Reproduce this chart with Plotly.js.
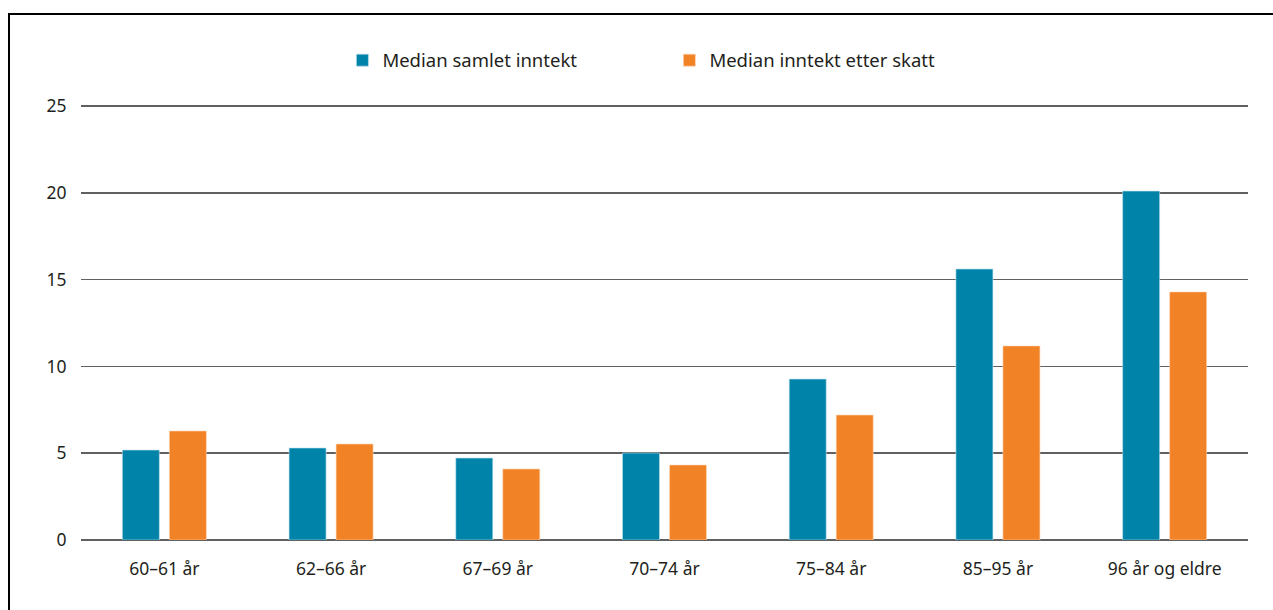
<!DOCTYPE html>
<html>
<head>
<meta charset="utf-8">
<script src="https://cdn.plot.ly/plotly-3.0.1.min.js"></script>
<style>
  html, body { margin: 0; padding: 0; background: #fff; }
  #chart { width: 1273px; height: 610px; }
  #frame { position: absolute; left: 8px; top: 13px; width: 1280px; height: 620px;
           border-top: 2px solid #000; border-left: 2px solid #000; pointer-events: none; }
</style>
</head>
<body>
<div id="chart"></div>
<div id="frame"></div>
<script>
const categories = ["60–61 år", "62–66 år", "67–69 år", "70–74 år", "75–84 år", "85–95 år", "96 år og eldre"];
const seriesNames = ["Median samlet inntekt", "Median inntekt etter skatt"];
const samletInntekt = [5.18, 5.3, 4.72, 5.01, 9.27, 15.61, 20.1];
const etterSkatt = [6.28, 5.53, 4.09, 4.32, 7.2, 11.18, 14.29];
const yTicks = [0, 5, 10, 15, 20, 25];

const font = "Noto Sans, sans-serif";
const textColor = "#231f20";
const traces = [
  { type: "bar", name: seriesNames[0], x: categories, y: samletInntekt,
    marker: { color: "#0083a9", line: { color: "#bfe3ee", width: 0.6 } }, hoverinfo: "x+y" },
  { type: "bar", name: seriesNames[1], x: categories, y: etterSkatt,
    marker: { color: "#f28226", line: { color: "#fbd9bd", width: 0.6 } }, hoverinfo: "x+y" }
];

const layout = {
  width: 1273, height: 610,
  margin: { l: 81, r: 25, t: 101, b: 70 },
  paper_bgcolor: "#fff", plot_bgcolor: "#fff",
  font: { family: font, size: 17, color: textColor },
  barmode: "group", bargap: 0.436, bargroupgap: 0.213,
  showlegend: true,
  legend: { orientation: "h", x: 0.224, xanchor: "left", y: 1.092, yanchor: "middle",
            entrywidth: 282, entrywidthmode: "pixels", font: { family: font, size: 18.5, color: textColor },
            itemclick: false },
  xaxis: { type: "category", showgrid: false, showline: false, zeroline: false,
           ticks: "outside", ticklen: 13, tickcolor: "rgba(0,0,0,0)",
           tickfont: { family: font, size: 17.5, color: textColor } },
  yaxis: { range: [0, 25.29], tickvals: yTicks, ticktext: yTicks.map(String),
           showgrid: true, gridcolor: "#606060", gridwidth: 1.5,
           zeroline: true, zerolinecolor: "#606060", zerolinewidth: 1.5,
           showline: false, ticks: "outside", ticklen: 10, tickcolor: "rgba(0,0,0,0)",
           tickfont: { family: font, size: 17.5, color: textColor } }
};

Plotly.newPlot("chart", traces, layout, { displayModeBar: false, staticPlot: true });
</script>
</body>
</html>
